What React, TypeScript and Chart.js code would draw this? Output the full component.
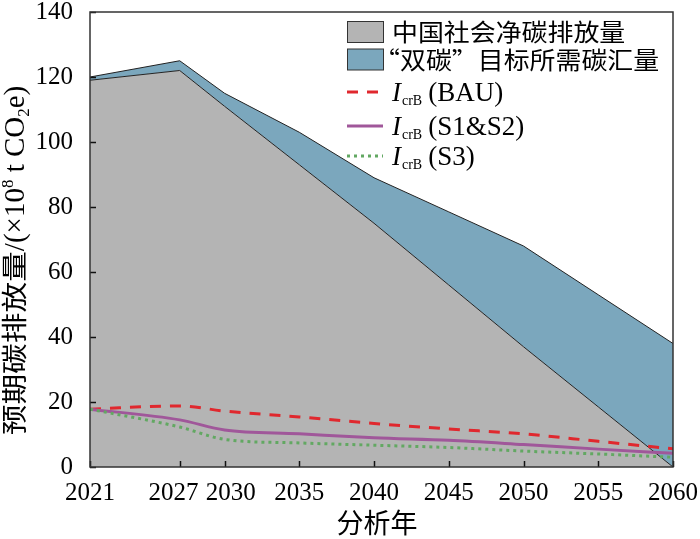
import React, { useEffect, useRef } from 'react';
import { Chart, registerables } from 'chart.js';

Chart.register(...registerables);

// ---------------- data ----------------
const years = [2021, 2027, 2030, 2035, 2040, 2045, 2050, 2055, 2060];
const xTickValues = [2021, 2027, 2030, 2035, 2040, 2045, 2050, 2055, 2060];
const yTickValues = [0, 20, 40, 60, 80, 100, 120, 140];

// 中国社会净碳排放量 (10^8 t CO2e)
const netEmission = [119, 122, 111, 93, 75, 56, 37, 18.5, 0];
// “双碳”目标所需碳汇量 (stacked on top of net emission)
const requiredSink = [1, 3, 4, 10, 14, 22.5, 31, 34.5, 38];
// I_crB lines
const icrBAU = [17.8, 18.8, 17.2, 15.4, 13.4, 11.7, 10.2, 7.9, 5.6];
const icrS12 = [17.8, 14.5, 11.4, 10.2, 9.0, 8.2, 6.9, 5.5, 4.2];
const icrS3 = [17.8, 12.3, 8.5, 7.4, 6.7, 6.0, 4.9, 4.0, 3.0];

const areaLabels = ['中国社会净碳排放量', '“双碳”目标所需碳汇量'];
const lineLabels = ['(BAU)', '(S1&S2)', '(S3)'];
const lineSymbolMain = 'I';
const lineSymbolSub = 'crB';
const yTitleCjk = '预期碳排放量';
const xTitle = '分析年';

// ---------------- styles ----------------
const SERIF = '"Liberation Serif", "Times New Roman", serif';
const CJK = '"Noto Sans CJK SC", "Noto Sans CJK JP", sans-serif';
const GRAY = '#b4b4b4';
const BLUE = '#7ba7bd';
const EDGE = '#222222';
const RED = '#e0282e';
const PURPLE = '#a0579a';
const GREEN = '#62a862';
const RED_DASH = [11, 9];
const GREEN_DASH = [3, 4];

Chart.defaults.font.family = SERIF;

type Part = { text: string; font: string; dy?: number; sx?: number; gap?: number };

function partWidth(ctx: CanvasRenderingContext2D, p: Part) {
  ctx.font = p.font;
  return ctx.measureText(p.text).width * (p.sx || 1) + (p.gap || 0);
}

function drawParts(ctx: CanvasRenderingContext2D, parts: Part[], x: number, y: number) {
  let cx = x;
  for (const p of parts) {
    ctx.save();
    ctx.font = p.font;
    ctx.translate(cx, y + (p.dy || 0));
    ctx.scale(p.sx || 1, 1);
    ctx.fillText(p.text, 0, 0);
    ctx.restore();
    cx += partWidth(ctx, p);
  }
  return cx - x;
}

const decorPlugin = {
  id: 'decor',
  afterDraw(chart: any) {
    const ctx: CanvasRenderingContext2D = chart.ctx;
    const { left, right, top, bottom } = chart.chartArea;
    const xs = chart.scales.x;
    const ys = chart.scales.y;
    ctx.save();

    // inward tick marks
    ctx.strokeStyle = '#111';
    ctx.lineWidth = 1.5;
    ctx.setLineDash([]);
    ctx.beginPath();
    for (const v of xTickValues) {
      const px = Math.round(xs.getPixelForValue(v)) + 0.5;
      ctx.moveTo(px, bottom);
      ctx.lineTo(px, bottom - 6);
    }
    for (const v of yTickValues) {
      const py = Math.round(ys.getPixelForValue(v)) + 0.5;
      ctx.moveTo(left, py);
      ctx.lineTo(left + 6, py);
    }
    ctx.stroke();

    // plot frame
    ctx.strokeStyle = '#333';
    ctx.lineWidth = 1.5;
    ctx.strokeRect(left, top, right - left, bottom - top);

    // ---------- legend ----------
    const swX = 347;
    const swW = 36;
    const textX = 392;
    ctx.fillStyle = '#000';
    ctx.textBaseline = 'middle';
    ctx.textAlign = 'left';
    const areaRowY = [32, 59.5];
    const areaColors = [GRAY, BLUE];
    areaLabels.forEach((lab, i) => {
      const cy = areaRowY[i];
      ctx.fillStyle = areaColors[i];
      ctx.fillRect(swX, cy - 10.5, swW, 21);
      ctx.strokeStyle = '#333';
      ctx.lineWidth = 1;
      ctx.strokeRect(swX + 0.5, cy - 10.5, swW, 21);
      ctx.fillStyle = '#000';
      const font = `24px ${CJK}`;
      if (lab.startsWith('“')) {
        const q: Part = { text: '“', font, sx: 1.08 };
        const qw = partWidth(ctx, q);
        drawParts(ctx, [q, { text: lab.slice(1), font, sx: 1.08 }], 400 - qw, cy);
      } else {
        drawParts(ctx, [{ text: lab, font, sx: 1.08 }], textX, cy);
      }
    });
    const lineRowY = [92, 126, 156];
    const lineColors = [RED, PURPLE, GREEN];
    const lineDashes = [RED_DASH, [], GREEN_DASH];
    lineLabels.forEach((lab, i) => {
      const cy = lineRowY[i];
      ctx.save();
      ctx.strokeStyle = lineColors[i];
      ctx.lineWidth = 3;
      ctx.setLineDash(lineDashes[i]);
      ctx.beginPath();
      ctx.moveTo(swX, cy);
      ctx.lineTo(swX + swW, cy);
      ctx.stroke();
      ctx.restore();
      ctx.fillStyle = '#000';
      ctx.textBaseline = 'alphabetic';
      drawParts(
        ctx,
        [
          { text: lineSymbolMain, font: `italic 27px ${SERIF}`, gap: 1 },
          { text: lineSymbolSub, font: `14px ${SERIF}`, dy: 4, gap: 6 },
          { text: lab, font: `27px ${SERIF}` },
        ],
        textX,
        cy + 9
      );
    });

    // ---------- y-axis title (rotated) ----------
    const yParts: Part[] = [
      { text: yTitleCjk, font: `26px ${CJK}`, sx: 1.18 },
      { text: '/(×10', font: `29px ${SERIF}` },
      { text: '8', font: `17px ${SERIF}`, dy: -11 },
      { text: ' t CO', font: `29px ${SERIF}` },
      { text: '2', font: `17px ${SERIF}`, dy: 5 },
      { text: 'e)', font: `29px ${SERIF}` },
    ];
    let tot = 0;
    for (const p of yParts) tot += partWidth(ctx, p);
    ctx.save();
    ctx.translate(24, 260.5);
    ctx.rotate(-Math.PI / 2);
    ctx.textBaseline = 'alphabetic';
    ctx.fillStyle = '#000';
    drawParts(ctx, yParts, -tot / 2, 0);
    ctx.restore();

    // ---------- x-axis title ----------
    ctx.fillStyle = '#000';
    ctx.textBaseline = 'middle';
    ctx.textAlign = 'center';
    ctx.font = `27px ${CJK}`;
    ctx.fillText(xTitle, 377, 523);

    ctx.restore();
  },
};

export default function App() {
  const ref = useRef<HTMLCanvasElement | null>(null);

  useEffect(() => {
    if (!ref.current) return;
    const pts = (arr: number[]) => years.map((y, i) => ({ x: y, y: arr[i] }));
    const chart = new Chart(ref.current, {
      type: 'line',
      data: {
        datasets: [
          {
            label: areaLabels[0],
            data: pts(netEmission),
            stack: 'area',
            fill: 'origin',
            backgroundColor: GRAY,
            borderColor: EDGE,
            borderWidth: 1,
            pointRadius: 0,
            tension: 0,
            order: 4,
          },
          {
            label: areaLabels[1],
            data: pts(requiredSink),
            stack: 'area',
            fill: '-1',
            backgroundColor: BLUE,
            borderColor: EDGE,
            borderWidth: 1,
            pointRadius: 0,
            tension: 0,
            order: 5,
          },
          {
            label: 'IcrB (BAU)',
            data: pts(icrBAU),
            stack: 'bau',
            fill: false,
            borderColor: RED,
            borderWidth: 3,
            borderDash: RED_DASH,
            pointRadius: 0,
            cubicInterpolationMode: 'monotone',
            order: 3,
          },
          {
            label: 'IcrB (S1&S2)',
            data: pts(icrS12),
            stack: 's12',
            fill: false,
            borderColor: PURPLE,
            borderWidth: 3,
            pointRadius: 0,
            cubicInterpolationMode: 'monotone',
            order: 2,
          },
          {
            label: 'IcrB (S3)',
            data: pts(icrS3),
            stack: 's3',
            fill: false,
            borderColor: GREEN,
            borderWidth: 3,
            borderDash: GREEN_DASH,
            pointRadius: 0,
            cubicInterpolationMode: 'monotone',
            order: 1,
          },
        ],
      },
      options: {
        animation: false,
        responsive: false,
        devicePixelRatio: 1,
        layout: { padding: { left: 0, top: 0, right: 27, bottom: 0 } },
        plugins: {
          legend: { display: false },
          tooltip: { enabled: false },
          filler: { propagate: false, drawTime: 'beforeDatasetsDraw' },
        },
        scales: {
          x: {
            type: 'linear',
            min: 2021,
            max: 2060,
            grid: { display: false, drawTicks: true, tickLength: 11 },
            border: { display: false },
            afterBuildTicks: (s: any) => {
              s.ticks = xTickValues.map((v) => ({ value: v }));
            },
            afterFit: (s: any) => {
              s.height = 72;
            },
            ticks: {
              autoSkip: false,
              maxRotation: 0,
              minRotation: 0,
              padding: 0,
              color: '#000',
              font: { family: SERIF, size: 25, lineHeight: 1.2 },
              callback: (v: any) => {
                if (v === 2027) return '2027  ';
                if (v === 2030) return '  2030';
                return String(v);
              },
            },
          },
          y: {
            type: 'linear',
            min: 0,
            max: 140,
            stacked: true,
            grid: { display: false, drawTicks: true, tickLength: 17 },
            border: { display: false },
            afterBuildTicks: (s: any) => {
              s.ticks = yTickValues.map((v) => ({ value: v }));
            },
            afterFit: (s: any) => {
              s.width = 90;
            },
            ticks: {
              padding: 0,
              color: '#000',
              font: { family: SERIF, size: 25, lineHeight: 0.96 },
            },
          },
        },
      } as any,
      plugins: [decorPlugin],
    });
    return () => chart.destroy();
  }, []);

  return (
    <canvas
      ref={ref}
      width={700}
      height={539}
      style={{ position: 'absolute', left: 0, top: 0, width: 700, height: 539, display: 'block', background: '#fff' }}
    />
  );
}
